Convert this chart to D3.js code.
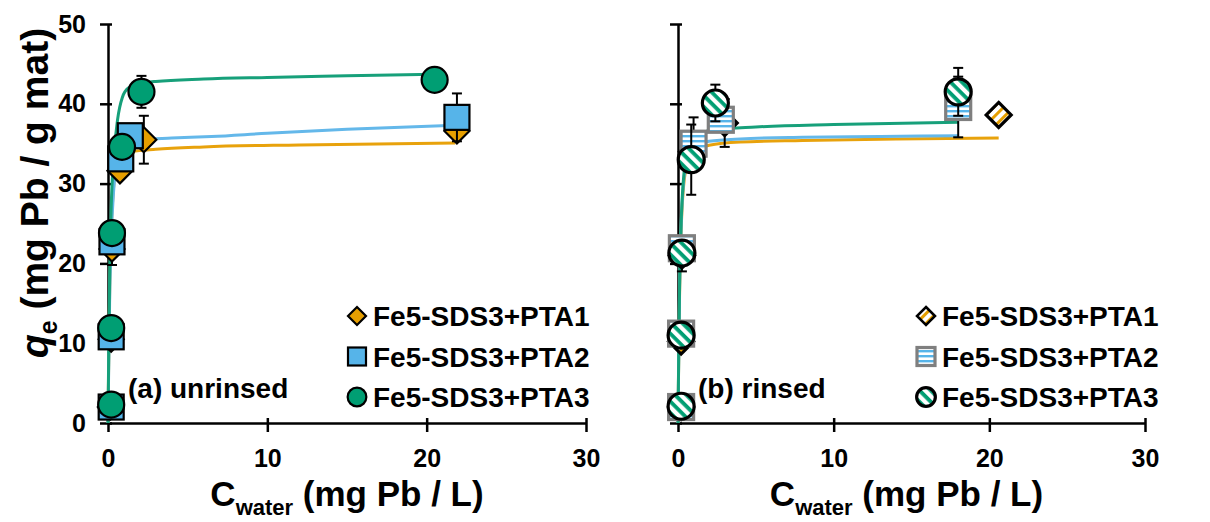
<!DOCTYPE html>
<html><head><meta charset="utf-8">
<script src="https://cdn.jsdelivr.net/npm/d3@7"></script>
<style>
html,body{margin:0;padding:0;background:#fff;}
svg{display:block;font-family:"Liberation Sans",Arial,sans-serif;font-weight:bold;}
</style></head>
<body><svg id="chart" width="1210" height="522"></svg>
<script>
// ---------- data ----------
const seriesNames = ["Fe5-SDS3+PTA1", "Fe5-SDS3+PTA2", "Fe5-SDS3+PTA3"];
const xTicks = [0, 10, 20, 30];
const yTicks = [0, 10, 20, 30, 40, 50];

// (a) unrinsed – measured points
const aC1 = [0.15, 0.2, 0.25, 0.75, 2.25, 21.9];
const aQ1 = [2.0, 10.5, 21.8, 31.6, 35.5, 36.6];
const aE1 = [0, 0, 2.0, 0, 3.0, 0];
const aC2 = [0.2, 0.2, 0.25, 0.8, 1.4, 21.9];
const aQ2 = [2.0, 10.8, 22.7, 33.1, 36.0, 38.3];
const aE2 = [0, 0, 0, 0, 0, 3.0];
const aC3 = [0.2, 0.2, 0.25, 0.88, 2.1, 20.5];
const aQ3 = [2.3, 11.9, 23.8, 34.6, 41.5, 43.0];
const aE3 = [0, 0, 0, 0, 2.0, 0];
// (a) fitted curves
const aFitC1 = [0, 0.05, 0.1, 0.2, 0.35, 0.55, 0.8, 1.5, 3, 6, 12, 21.8];
const aFitQ1 = [0, 9, 16, 24, 29.5, 32.3, 33.3, 34.0, 34.3, 34.6, 34.85, 35.1];
const aFitC2 = [0, 0.05, 0.1, 0.2, 0.35, 0.6, 1, 2, 4, 6.5, 10, 15, 21.8];
const aFitQ2 = [0, 8, 15, 23, 29, 33, 35.1, 35.5, 35.7, 35.9, 36.3, 36.8, 37.3];
const aFitC3 = [0, 0.05, 0.1, 0.2, 0.35, 0.6, 0.9, 1.3, 2, 3, 6, 10, 15, 20.5];
const aFitQ3 = [0, 10, 18, 27, 33, 38, 40.8, 42, 42.5, 42.8, 43.1, 43.3, 43.5, 43.7];

// (b) rinsed – measured points
const bC1 = [0.2, 0.2, 0.25, 0.9, 3.0, 20.6];
const bQ1 = [2.0, 10.2, 21.0, 34.0, 37.6, 38.6];
const bE1 = [0, 0, 2.0, 0, 3.0, 0];
const bC2 = [0.2, 0.2, 0.25, 1.0, 2.75, 18.0];
const bQ2 = [2.0, 11.2, 21.9, 35.0, 38.0, 39.6];
const bE2 = [0, 0, 0, 3.3, 0, 3.8];
const bC3 = [0.2, 0.2, 0.25, 0.85, 2.4, 18.0];
const bQ3 = [2.1, 11.0, 21.3, 33.0, 40.1, 41.5];
const bE3 = [0, 0, 0, 4.4, 2.3, 3.0];
// (b) fitted curves
const bFitC1 = [0, 0.05, 0.1, 0.2, 0.35, 0.6, 1, 2, 4, 8, 14, 20.6];
const bFitQ1 = [0, 9, 16, 24, 29.5, 32.5, 34.0, 34.8, 35.2, 35.4, 35.6, 35.7];
const bFitC2 = [0, 0.05, 0.1, 0.2, 0.35, 0.6, 1, 2, 4, 8, 13, 18];
const bFitQ2 = [0, 9, 16.5, 24.5, 30, 33, 34.6, 35.3, 35.6, 35.8, 35.9, 36.0];
const bFitC3 = [0, 0.05, 0.1, 0.2, 0.35, 0.6, 1, 1.5, 2.5, 5, 10, 18];
const bFitQ3 = [0, 9.5, 17, 25, 30.5, 33.8, 35.5, 36.3, 36.8, 37.1, 37.4, 37.7];

// ---------- drawing ----------
const svg = d3.select("#chart");
const colors = ["#E69F00", "#56B4E9", "#009E73"];
const fitColors = ["#E8A20C", "#64B8EA", "#17A07A"];
const FONT = '"Liberation Sans",Arial,sans-serif';

// patterns for rinsed panel
const defs = svg.append("defs");
function stripePattern(id, color, angle, period, width) {
  const p = defs.append("pattern").attr("id", id).attr("patternUnits", "userSpaceOnUse")
    .attr("width", period).attr("height", period)
    .attr("patternTransform", `rotate(${angle})`);
  p.append("rect").attr("width", period).attr("height", period).attr("fill", "#fff");
  p.append("rect").attr("x", 0).attr("y", 0).attr("width", period).attr("height", width).attr("fill", color);
}
stripePattern("pOrange", "#E69F00", -45, 7, 3);
stripePattern("pBlue", "#56B4E9", 0, 5, 2.4);
stripePattern("pGreen", "#009E73", 45, 8, 3.8);

const yScale = d3.scaleLinear().domain([0, 50]).range([423, 24]);

function panel(x0, x1, showYLabels, pts, fits, label, rinsed, legendX, titleShift) {
  const x = d3.scaleLinear().domain([0, 30]).range([x0, x1]);
  const g = svg.append("g");
  // axes
  const xAxis = d3.axisBottom(x).tickValues(xTicks).tickSize(0).tickPadding(26);
  const gx = g.append("g").attr("transform", `translate(0,${yScale(0)})`).call(xAxis);
  gx.select(".domain").attr("stroke", "#000").attr("stroke-width", 2.5);
  gx.selectAll(".tick text").attr("font-size", 25).attr("font-weight", "bold").attr("fill", "#000")
    .attr("font-family", FONT);
  gx.selectAll(".tick").append("line").attr("y1", -5).attr("y2", 9).attr("stroke", "#000").attr("stroke-width", 2.5);

  const yAxis = d3.axisLeft(yScale).tickValues(yTicks).tickSize(0).tickPadding(22)
    .tickFormat(showYLabels ? d3.format("d") : () => "");
  const gy = g.append("g").attr("transform", `translate(${x(0)},0)`).call(yAxis);
  gy.select(".domain").attr("stroke", "#000").attr("stroke-width", 2.5);
  gy.selectAll(".tick text").attr("font-size", 25).attr("font-weight", "bold").attr("fill", "#000")
    .attr("font-family", FONT);
  gy.selectAll(".tick").append("line").attr("x1", -8).attr("x2", 4).attr("stroke", "#000").attr("stroke-width", 2.5);

  // fitted lines
  const line = d3.line().x(d => x(d[0])).y(d => yScale(d[1])).curve(d3.curveMonotoneX);
  fits.forEach((f, i) => {
    g.append("path").datum(d3.zip(f[0], f[1])).attr("d", line)
      .attr("fill", "none").attr("stroke", fitColors[i]).attr("stroke-width", 3);
  });

  // points
  pts.forEach((s, i) => {
    const data = s[0].map((c, k) => ({c, q: s[1][k], e: s[2][k]}));
    const eb = g.append("g");
    data.filter(d => d.e > 0).forEach(d => {
      const cx = x(d.c);
      eb.append("line").attr("x1", cx).attr("x2", cx).attr("y1", yScale(d.q - d.e)).attr("y2", yScale(d.q + d.e))
        .attr("stroke", "#000").attr("stroke-width", 2);
      [d.q - d.e, d.q + d.e].forEach(v => eb.append("line").attr("x1", cx - 5).attr("x2", cx + 5)
        .attr("y1", yScale(v)).attr("y2", yScale(v)).attr("stroke", "#000").attr("stroke-width", 2));
    });
    drawMarkers(g, data.map(d => [x(d.c), yScale(d.q)]), i, rinsed, 1);
  });

  // panel label
  g.append("text").attr("x", x(0) + 20).attr("y", 398).attr("font-size", 28).text(label);

  // legend
  seriesNames.forEach((n, i) => {
    const cy = 316 + i * 40.5;
    drawMarkers(g, [[legendX, cy]], i, rinsed, 0.72);
    g.append("text").attr("x", legendX + 16).attr("y", cy + 10).attr("font-size", 28).text(n);
  });

  // x axis title
  const t = g.append("text").attr("x", (x0 + x1) / 2 + titleShift).attr("y", 506).attr("font-size", 35).attr("text-anchor", "middle");
  t.append("tspan").text("C");
  t.append("tspan").attr("font-size", 22).attr("dy", 9).text("water");
  t.append("tspan").attr("dy", -9).text(" (mg Pb / L)");
}

function drawMarkers(g, coords, i, rinsed, scale) {
  coords.forEach(([cx, cy]) => {
    if (i === 0) {
      const h = 12.5 * scale;
      g.append("path").attr("d", `M${cx},${cy - h}L${cx + h},${cy}L${cx},${cy + h}L${cx - h},${cy}Z`)
        .attr("fill", rinsed ? "url(#pOrange)" : colors[0]).attr("stroke", "#000")
        .attr("stroke-width", rinsed ? 3.2 * Math.max(scale, 0.8) : 2.2).attr("stroke-linejoin", "miter");
    } else if (i === 1) {
      const h = 12.5 * scale;
      g.append("rect").attr("x", cx - h).attr("y", cy - h).attr("width", 2 * h).attr("height", 2 * h)
        .attr("fill", rinsed ? "url(#pBlue)" : colors[1]).attr("stroke", rinsed ? "#7f7f7f" : "#000")
        .attr("stroke-width", rinsed ? 3.2 : 2.2);
    } else {
      const r = 13 * scale;
      g.append("circle").attr("cx", cx).attr("cy", cy).attr("r", r)
        .attr("fill", rinsed ? "url(#pGreen)" : colors[2]).attr("stroke", "#000")
        .attr("stroke-width", rinsed ? 3.2 : 2.2);
    }
  });
}

panel(108, 586, true,
  [[aC1, aQ1, aE1], [aC2, aQ2, aE2], [aC3, aQ3, aE3]],
  [[aFitC1, aFitQ1], [aFitC2, aFitQ2], [aFitC3, aFitQ3]],
  "(a) unrinsed", false, 357, 0);
panel(678, 1145, false,
  [[bC1, bQ1, bE1], [bC2, bQ2, bE2], [bC3, bQ3, bE3]],
  [[bFitC1, bFitQ1], [bFitC2, bFitQ2], [bFitC3, bFitQ3]],
  "(b) rinsed", true, 926, -5);

// y axis title
const yt = svg.append("text").attr("transform", "translate(48,193) rotate(-90)")
  .attr("text-anchor", "middle").attr("font-size", 39);
yt.append("tspan").attr("font-style", "italic").text("q");
yt.append("tspan").attr("font-size", 25).attr("dy", 9).text("e");
yt.append("tspan").attr("dy", -9).text(" (mg Pb / g mat)");
</script></body></html>
